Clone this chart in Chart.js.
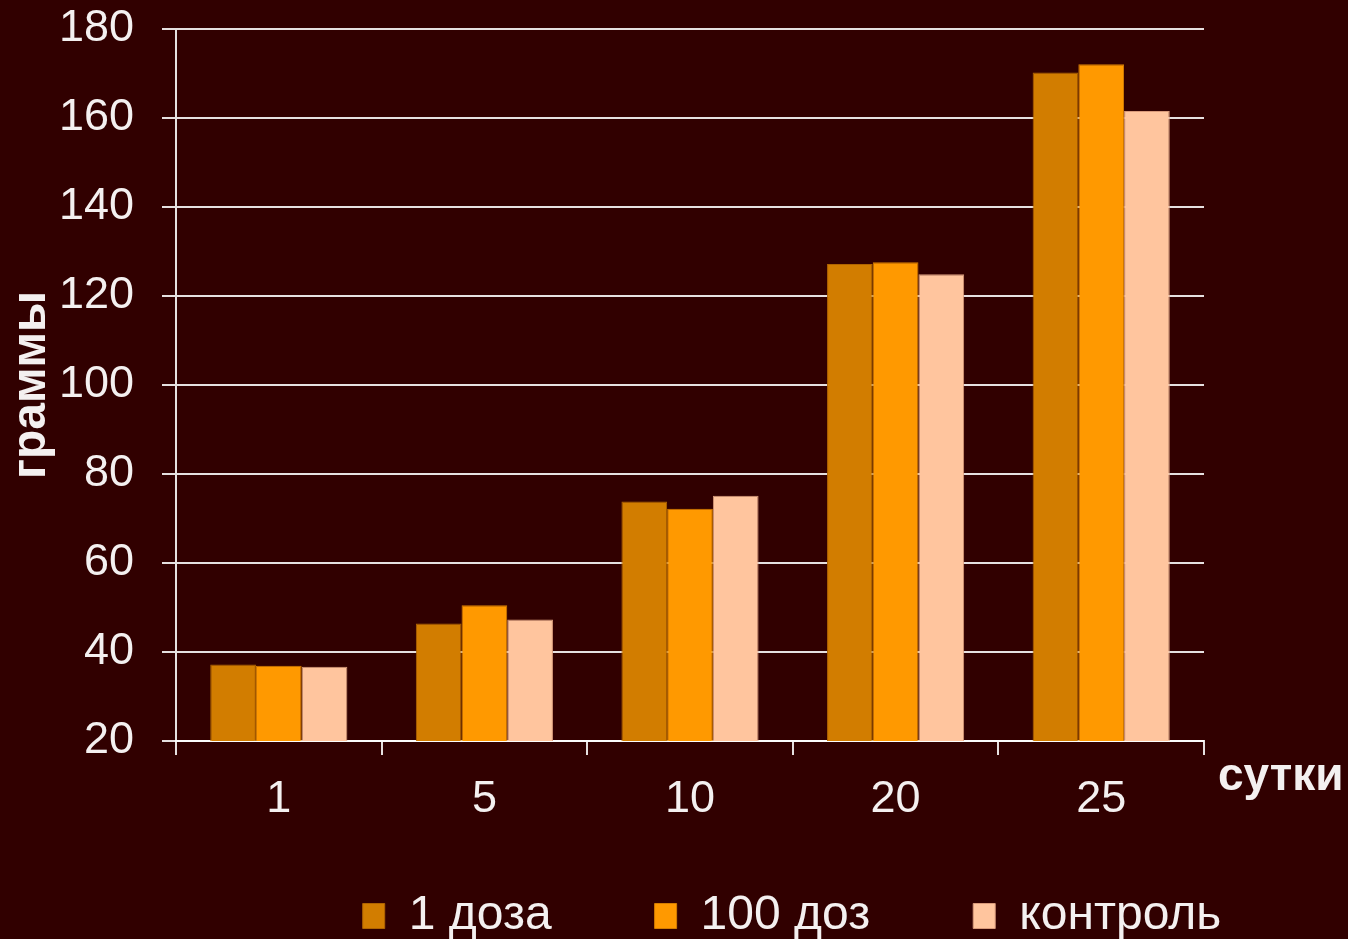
<!DOCTYPE html>
<html lang="ru">
<head>
<meta charset="utf-8">
<title>Масса, граммы по суткам</title>
<script src="https://cdn.jsdelivr.net/npm/chart.js@4.4.1/dist/chart.umd.min.js"></script>
<style>
  html, body { margin: 0; padding: 0; background: #310000; overflow: hidden; }
  #wrap { width: 1348px; height: 939px; position: relative; }
</style>
</head>
<body>
<div id="wrap"><canvas id="myChart"></canvas></div>
<script>
  // days on the x axis
  const days = ["1", "5", "10", "20", "25"];
  const seriesNames = ["1 доза", "100 доз", "контроль"];

  // weight, grams
  const dose1 = [37.2, 46.4, 73.8, 127.2, 170.2];
  const dose100 = [36.9, 50.5, 72.2, 127.6, 172.1];
  const control = [36.7, 47.3, 75.1, 124.9, 161.6];

  const yMin = 20, yMax = 180, yStep = 20;

  const FONT = "'Liberation Sans', Arial, Helvetica, sans-serif";
  const TEXT = '#f4f0f0';
  const LINE = 'rgba(255,255,255,0.88)';
  const LEGEND_SHIFT = 118;

  const data = {
    labels: days,
    datasets: [
      { label: seriesNames[0], data: dose1,   backgroundColor: '#d27d00', borderColor: '#b06400' },
      { label: seriesNames[1], data: dose100, backgroundColor: '#ff9900', borderColor: '#d57d00' },
      { label: seriesNames[2], data: control, backgroundColor: '#ffc59e', borderColor: '#d99a7a' }
    ].map(ds => Object.assign(ds, {
      borderWidth: 1,
      categoryPercentage: 0.667,
      barPercentage: 1.0
    }))
  };

  // "сутки" sits to the right of the axis, below the last tick
  const xAxisName = {
    id: 'xAxisName',
    afterDraw(chart) {
      const { ctx, chartArea } = chart;
      ctx.save();
      ctx.font = "bold 46px " + FONT;
      ctx.fillStyle = TEXT;
      ctx.textAlign = 'left';
      ctx.textBaseline = 'alphabetic';
      ctx.fillText('сутки', chartArea.right + 14, chartArea.bottom + 49);
      ctx.restore();
    }
  };

  // move the legend row down and to the right
  const legendPlace = {
    id: 'legendPlace',
    afterLayout(chart) {
      const lg = chart.legend;
      if (!lg) return;
      const pad = lg.options.labels.padding;
      lg.left = LEGEND_SHIFT;
      lg.right = chart.width + LEGEND_SHIFT;
      lg.top = 892 - pad;
      lg.bottom = chart.height;
    }
  };

  const config = {
    type: 'bar',
    data: data,
    plugins: [xAxisName, legendPlace],
    options: {
      responsive: false,
      animation: false,
      layout: { padding: { top: 29, left: 0, right: 144, bottom: 0 } },
      plugins: {
        tooltip: { enabled: false },
        legend: {
          position: 'bottom',
          maxHeight: 60,
          labels: {
            boxWidth: 22,
            boxHeight: 25,
            padding: 103,
            color: TEXT,
            font: { family: FONT, size: 48 }
          }
        }
      },
      scales: {
        x: {
          afterFit(scale) { scale.height = 138; },
          grid: {
            display: true,
            drawOnChartArea: false,
            drawTicks: true,
            tickLength: 14,
            color: LINE,
            lineWidth: 2
          },
          border: { display: true, color: LINE, width: 2 },
          ticks: {
            color: TEXT,
            padding: 18,
            font: { family: FONT, size: 45 }
          }
        },
        y: {
          min: yMin,
          max: yMax,
          afterFit(scale) {
            scale.width = 176;
            scale.paddingTop = 0;
            scale.paddingBottom = 0;
          },
          grid: {
            color: LINE,
            lineWidth: 2,
            tickLength: 14
          },
          border: { display: true, color: LINE, width: 2 },
          ticks: {
            stepSize: yStep,
            color: TEXT,
            padding: 28,
            font: { family: FONT, size: 45 }
          },
          title: {
            display: true,
            text: 'граммы',
            color: TEXT,
            padding: { top: 8, bottom: 0 },
            font: { family: FONT, size: 48, weight: 'bold', lineHeight: 1 }
          }
        }
      }
    }
  };

  const canvas = document.getElementById('myChart');
  canvas.width = 1348;
  canvas.height = 939;
  const myChart = new Chart(canvas, config);
</script>
</body>
</html>
